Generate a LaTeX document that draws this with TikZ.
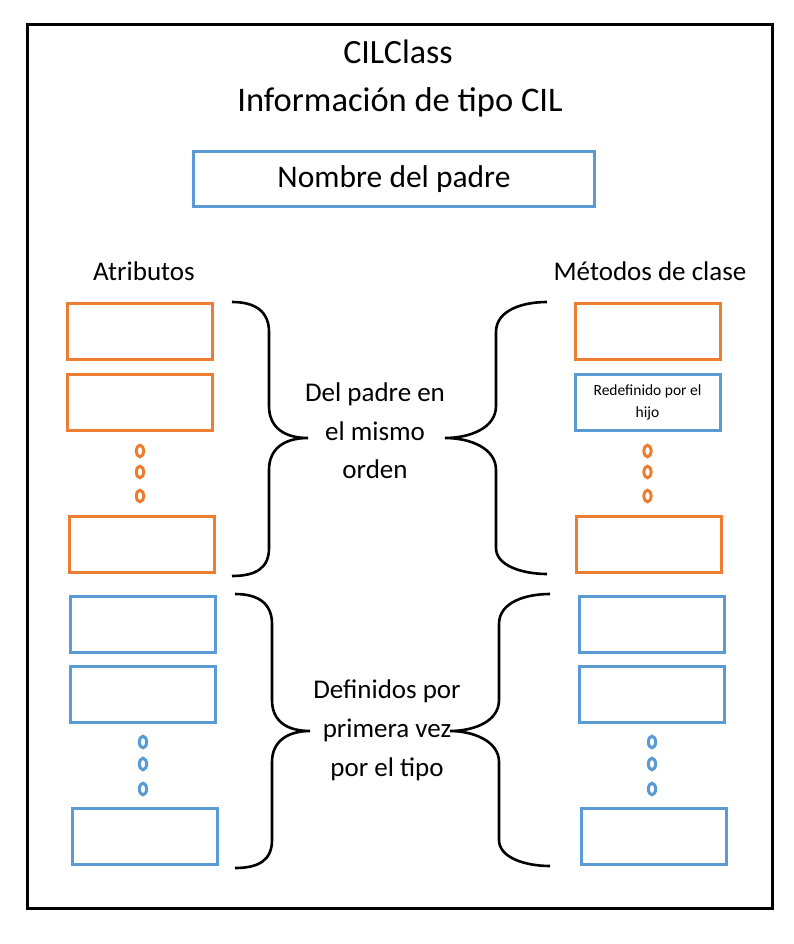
\documentclass[tikz,border=0pt]{standalone}
\usepackage{fontspec}
\setmainfont{Carlito}
\definecolor{offorange}{HTML}{ED7D31}
\definecolor{offblue}{HTML}{5B9BD5}
\begin{document}
\begin{tikzpicture}[x=1pt,y=-1pt,
  slot/.style={draw,line width=3pt,minimum width=145pt,minimum height=56pt,inner sep=0pt,fill=white},
  oslot/.style={slot,draw=offorange},
  bslot/.style={slot,draw=offblue},
  odot/.style={draw=offorange,line width=3pt},
  bdot/.style={draw=offblue,line width=3pt},
  bracepath/.style={draw=black,line width=2.6pt},
  lbl/.style={inner sep=0pt,align=center}]
\useasboundingbox (0,0) rectangle (793,944);
\fill[white] (0,0) rectangle (793,944);
\node[draw=black,line width=3pt,minimum width=745pt,minimum height=883pt,inner sep=0pt] (frame) at (399.5,466.5) {};
\node[lbl,font=\fontsize{34}{40}\selectfont] (title) at (398,52) {CILClass};
\node[lbl,font=\fontsize{34.5}{40}\selectfont] (subtitle) at (400,102) {Información de tipo CIL};
\node[draw=offblue,line width=3pt,minimum width=401pt,minimum height=54pt,inner sep=0pt,font=\fontsize{31.5}{36}\selectfont] (padre) at (394,179) {Nombre del padre};
\node[lbl,font=\fontsize{27}{32}\selectfont] (atrib) at (144,271) {Atributos};
\node[lbl,font=\fontsize{27}{32}\selectfont] (metod) at (650,271) {Métodos de clase};
% left column
\node[oslot] (L1) at (140,331) {};
\node[oslot] (L2) at (140,402) {};
\node[oslot] (L3) at (142,544) {};
\node[bslot] (L4) at (143,624) {};
\node[bslot] (L5) at (143,694) {};
\node[bslot] (L6) at (145,836) {};
% right column
\node[oslot] (R1) at (647.5,331) {};
\node[bslot,font=\fontsize{15.5}{22}\selectfont,align=center] (R2) at (647.5,402) {Redefinido por el\\hijo};
\node[oslot] (R3) at (649,544) {};
\node[bslot] (R4) at (652,624) {};
\node[bslot] (R5) at (652,694) {};
\node[bslot] (R6) at (654,836) {};
% dots
\foreach \yy in {451,472,496} {
  \draw[odot] (140,\yy) ellipse [x radius=3.6pt,y radius=5.8pt];
  \draw[odot] (647.5,\yy) ellipse [x radius=3.6pt,y radius=5.8pt];
}
\foreach \yy in {742,764,789} {
  \draw[bdot] (143,\yy) ellipse [x radius=3.6pt,y radius=5.8pt];
  \draw[bdot] (652,\yy) ellipse [x radius=3.6pt,y radius=5.8pt];
}
% braces
\draw[bracepath] (232,302) .. controls (256,302) and (269,312) .. (269,332) -- (269,406)
  .. controls (269,428) and (285,438) .. (308,438)
  .. controls (285,438) and (269,448) .. (269,470) -- (269,548)
  .. controls (269,568) and (256,576) .. (232,576);
\draw[bracepath] (547,302) .. controls (523,302) and (496,310) .. (496,332) -- (496,406)
  .. controls (496,428) and (470,438) .. (445,438)
  .. controls (470,438) and (496,448) .. (496,470) -- (496,548)
  .. controls (496,566) and (523,574) .. (547,574);
\draw[bracepath] (235,594) .. controls (259,594) and (272,604) .. (272,624) -- (272,700)
  .. controls (272,722) and (288,731) .. (310,731)
  .. controls (288,731) and (272,741) .. (272,762) -- (272,840)
  .. controls (272,860) and (259,868) .. (235,868);
\draw[bracepath] (550,594) .. controls (526,594) and (499,602) .. (499,624) -- (499,700)
  .. controls (499,722) and (473,731) .. (450,731)
  .. controls (473,731) and (499,741) .. (499,762) -- (499,840)
  .. controls (499,858) and (526,866) .. (550,866);
% brace labels
\node[lbl,font=\fontsize{27}{38.5}\selectfont] (padretxt) at (375,431) {Del padre en\\el mismo\\orden};
\node[lbl,font=\fontsize{27}{39}\selectfont] (deftxt) at (387,730) {Definidos por\\primera vez\\por el tipo};
\end{tikzpicture}
\end{document}
